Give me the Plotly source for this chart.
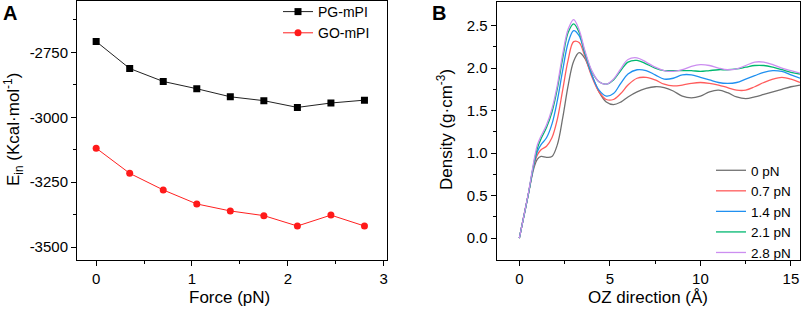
import plotly.graph_objects as go

# ---------------- Panel A data ----------------
force = [0, 0.35, 0.7, 1.05, 1.4, 1.75, 2.1, 2.45, 2.8]
pg_mpi = [-2708, -2812, -2862, -2890, -2921, -2936, -2962, -2945, -2934]
go_mpi = [-3119, -3216, -3280, -3334, -3361, -3379, -3419, -3377, -3419]
a_yticks = [-2750, -3000, -3250, -3500]
a_yticklabels = ["-2750", "-3000", "-3250", "-3500"]

# ---------------- Panel B data ----------------
oz = [0, 0.5, 0.8, 1.0, 1.2, 1.5, 1.8, 2.1, 2.4, 2.7, 3.0, 3.3, 3.6, 4.0, 4.4, 4.8,
      5.2, 5.6, 6.0, 6.5, 7.0, 7.5, 8.0, 8.5, 9.0, 9.5, 10.0, 10.5, 11.0, 11.5, 12.0,
      12.5, 13.0, 13.5, 14.0, 14.5, 15.0, 15.5]
d_0 = [0, 0.52, 0.82, 0.93, 0.96, 0.95, 0.96, 1.10, 1.42, 1.80, 2.08, 2.18, 2.12, 1.92,
       1.72, 1.60, 1.57, 1.60, 1.66, 1.72, 1.76, 1.78, 1.77, 1.73, 1.67, 1.65, 1.67,
       1.72, 1.74, 1.71, 1.66, 1.64, 1.66, 1.69, 1.72, 1.75, 1.78, 1.80]
d_07 = [0, 0.52, 0.85, 0.98, 1.04, 1.08, 1.18, 1.40, 1.75, 2.10, 2.31, 2.30, 2.15, 1.90,
        1.72, 1.63, 1.63, 1.70, 1.80, 1.88, 1.89, 1.86, 1.81, 1.79, 1.80, 1.82, 1.83,
        1.82, 1.80, 1.77, 1.74, 1.74, 1.78, 1.83, 1.87, 1.89, 1.87, 1.83]
d_14 = [0, 0.52, 0.86, 1.02, 1.10, 1.18, 1.34, 1.62, 1.98, 2.30, 2.44, 2.38, 2.18, 1.92,
        1.74, 1.67, 1.70, 1.82, 1.93, 1.98, 1.97, 1.92, 1.87, 1.88, 1.92, 1.92, 1.89,
        1.86, 1.83, 1.82, 1.83, 1.87, 1.91, 1.95, 1.97, 1.96, 1.92, 1.88]
d_21 = [0, 0.52, 0.88, 1.06, 1.17, 1.30, 1.48, 1.76, 2.12, 2.42, 2.52, 2.42, 2.20, 1.96,
        1.84, 1.81, 1.86, 1.97, 2.07, 2.09, 2.05, 2.00, 1.97, 1.97, 1.97, 1.97, 1.96,
        1.97, 1.98, 1.98, 1.99, 2.01, 2.03, 2.03, 2.01, 1.98, 1.95, 1.93]
d_28 = [0, 0.53, 0.90, 1.10, 1.20, 1.33, 1.52, 1.80, 2.17, 2.46, 2.57, 2.45, 2.22, 1.97,
        1.84, 1.81, 1.87, 1.99, 2.10, 2.12, 2.07, 2.01, 1.97, 1.96, 1.98, 2.02, 2.04,
        2.03, 2.00, 1.98, 1.99, 2.03, 2.07, 2.07, 2.04, 2.00, 1.97, 1.94]

b_names = ["0 pN", "0.7 pN", "1.4 pN", "2.1 pN", "2.8 pN"]
b_series = [d_0, d_07, d_14, d_21, d_28]
b_colors = ["#707070", "#ff5c5c", "#2090f0", "#00b870", "#cc8ef0"]

FONT = "Liberation Sans, Arial, sans-serif"
W, H = 803, 314

fig = go.Figure()

fig.add_trace(go.Scatter(x=force, y=pg_mpi, mode="lines+markers", name="PG-mPI",
                         line=dict(color="#222222", width=1),
                         marker=dict(symbol="square", size=7, color="black"),
                         xaxis="x", yaxis="y", legend="legend"))
fig.add_trace(go.Scatter(x=force, y=go_mpi, mode="lines+markers", name="GO-mPI",
                         line=dict(color="#ff2020", width=1),
                         marker=dict(symbol="circle", size=7, color="#ff1a1a"),
                         xaxis="x", yaxis="y", legend="legend"))

for name, ys, col in zip(b_names, b_series, b_colors):
    fig.add_trace(go.Scatter(x=oz, y=ys, mode="lines", name=name,
                             line=dict(color=col, width=1.3, shape="spline", smoothing=1.0),
                             xaxis="x2", yaxis="y2", legend="legend2"))

axis_common = dict(showline=True, linecolor="black", linewidth=1, mirror=True,
                   ticks="outside", ticklen=5, tickcolor="black", tickwidth=1,
                   showgrid=False, zeroline=False, automargin=False,
                   tickfont=dict(family=FONT, size=15, color="black"),
                   minor=dict(ticks="outside", ticklen=3, tickcolor="black", tickwidth=1))

def px_x(p):
    return p / W

def px_y(p):
    return (H - p) / H

TITLE_FONT = dict(family=FONT, size=17, color="black")

fig.update_layout(
    width=W, height=H,
    margin=dict(l=0, r=0, t=0, b=0, autoexpand=False),
    paper_bgcolor="white", plot_bgcolor="white",
    font=dict(family=FONT, color="black"),
    xaxis=dict(domain=[px_x(77), px_x(386.5)], range=[-0.2, 3.03], tickvals=[0, 1, 2, 3],
               minor_tickvals=[0.5, 1.5, 2.5], anchor="y", **axis_common),
    yaxis=dict(domain=[px_y(260), px_y(0.5)], range=[-3550, -2550],
               tickvals=a_yticks, ticktext=a_yticklabels,
               minor_tickvals=[-2625, -2875, -3125, -3375], anchor="x", **axis_common),
    xaxis2=dict(domain=[px_x(496.7), px_x(800)], range=[-1.25, 15.5], tickvals=[0, 5, 10, 15],
                minor_tickvals=[2.5, 7.5, 12.5], anchor="y2", **axis_common),
    yaxis2=dict(domain=[px_y(260), px_y(1.7)], range=[-0.257, 2.78],
                tickvals=[0, 0.5, 1.0, 1.5, 2.0, 2.5], tickformat=".1f",
                minor_tickvals=[0.25, 0.75, 1.25, 1.75, 2.25], anchor="x2", **axis_common),
    legend=dict(x=px_x(278), y=px_y(-4), xanchor="left", yanchor="top",
                bgcolor="rgba(0,0,0,0)", font=dict(family=FONT, size=14),
                tracegroupgap=0, itemwidth=30),
    legend2=dict(x=px_x(711), y=px_y(155), xanchor="left", yanchor="top",
                 bgcolor="rgba(0,0,0,0)", font=dict(family=FONT, size=13.5),
                 tracegroupgap=0, itemwidth=30),
    annotations=[
        dict(text="<b>A</b>", x=px_x(1), y=px_y(0), xref="paper", yref="paper",
             xanchor="left", yanchor="top", showarrow=False,
             font=dict(family=FONT, size=20, color="black")),
        dict(text="<b>B</b>", x=px_x(430), y=px_y(0), xref="paper", yref="paper",
             xanchor="left", yanchor="top", showarrow=False,
             font=dict(family=FONT, size=20, color="black")),
        dict(text="Force (pN)", x=px_x(230), y=px_y(297), xref="paper", yref="paper",
             xanchor="center", yanchor="middle", showarrow=False, font=TITLE_FONT),
        dict(text="OZ direction (Å)", x=px_x(648), y=px_y(297), xref="paper", yref="paper",
             xanchor="center", yanchor="middle", showarrow=False, font=TITLE_FONT),
        dict(text="E<sub>in</sub> (Kcal·mol<sup>-1</sup>)", x=px_x(13), y=px_y(130),
             xref="paper", yref="paper", xanchor="center", yanchor="middle",
             showarrow=False, textangle=-90, font=TITLE_FONT),
        dict(text="Density (g·cm<sup>-3</sup>)", x=px_x(445), y=px_y(130),
             xref="paper", yref="paper", xanchor="center", yanchor="middle",
             showarrow=False, textangle=-90, font=TITLE_FONT),
    ],
)

fig.write_html("out.html", config={"displayModeBar": False},
               post_script="document.body.style.margin='0';document.body.style.overflow='hidden';")
